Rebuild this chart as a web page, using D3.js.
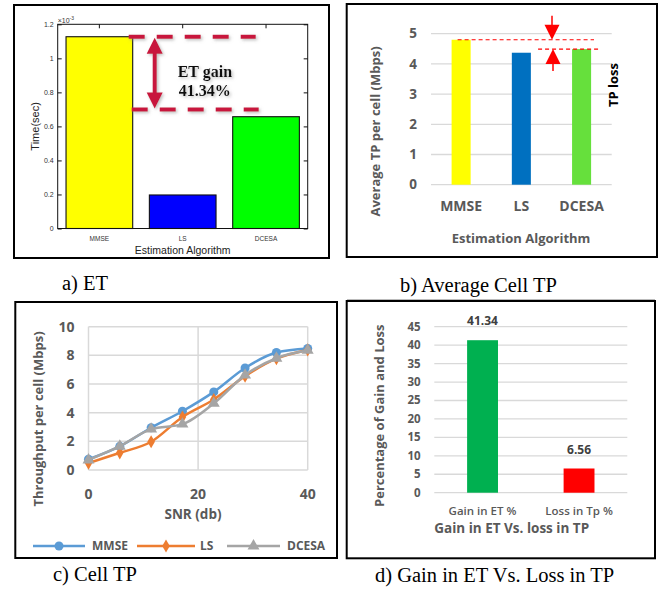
<!DOCTYPE html>
<html><head><meta charset="utf-8">
<script src="https://cdn.jsdelivr.net/npm/d3@7"></script>
<style>body{margin:0;background:#fff} svg{display:block}</style>
</head><body>
<svg id="chart" width="664" height="591"></svg>
<script>
// ---------- DATA ----------
const etCategories = ["MMSE", "LS", "DCESA"];
const etValues = [1.127e-3, 0.197e-3, 0.657e-3];            // Time (sec)
const etTicks = [0, 0.2e-3, 0.4e-3, 0.6e-3, 0.8e-3, 1.0e-3, 1.2e-3];
const etGainText = ["ET gain", "41.34%"];
const etGainLow = 0.70e-3;

const tpCategories = ["MMSE", "LS", "DCESA"];
const tpValues = [4.80, 4.37, 4.49];                        // Mbps
const tpTicks = [0, 1, 2, 3, 4, 5];

const snr = [0, 5.71, 11.43, 17.14, 22.86, 28.57, 34.29, 40];
const mmseTP = [0.75, 1.65, 2.95, 4.10, 5.45, 7.12, 8.20, 8.48];
const lsTP = [0.48, 1.20, 1.97, 3.70, 4.92, 6.55, 7.77, 8.38];
const dcesaTP = [0.70, 1.66, 2.85, 3.20, 4.65, 6.62, 7.80, 8.35];
const seriesNames = ["MMSE", "LS", "DCESA"];
const snrTicks = [0, 20, 40];
const cellTicks = [0, 2, 4, 6, 8, 10];

const gainCategories = ["Gain in ET %", "Loss in Tp %"];
const gainValues = [41.34, 6.56];
const gainTicks = [0, 5, 10, 15, 20, 25, 30, 35, 40, 45];

const captions = ["a) ET", "b) Average Cell TP", "c) Cell TP", "d) Gain in ET Vs. Loss in TP"];

// ---------- STYLE ----------
const F = "'Open Sans', sans-serif";
const FA = "'Liberation Sans', Arial, sans-serif";
const FS = "'Liberation Serif', 'Times New Roman', serif";
const GRAY = "#595959", GRID = "#d9d9d9";
const etColors = ["#ffff00", "#0000ff", "#00ff00"];
const tpColors = ["#ffff00", "#0070c0", "#66e03c"];
const lineColors = ["#5b9bd5", "#ed7d31", "#a5a5a5"];
const gainColors = ["#00b050", "#ff0000"];

const svg = d3.select("#chart");
const defs = svg.append("defs");
const flt = defs.append("filter").attr("id", "sh").attr("x", "-30%").attr("y", "-30%").attr("width", "160%").attr("height", "160%");
flt.append("feDropShadow").attr("dx", 1.5).attr("dy", 1.5).attr("stdDeviation", 1.4).attr("flood-color", "#888").attr("flood-opacity", 0.55);

function frame(x, y, w, h) {
  svg.append("rect").attr("x", x).attr("y", y).attr("width", w).attr("height", h)
    .attr("fill", "none").attr("stroke", "#000").attr("stroke-width", 2);
}
function txt(g, x, y, s, size, opts = {}) {
  const t = g.append("text").attr("x", x).attr("y", y).text(s)
    .attr("font-size", size).attr("font-family", opts.family || F)
    .attr("font-weight", opts.weight || "bold").attr("fill", opts.fill || GRAY)
    .attr("text-anchor", opts.anchor || "middle");
  if (opts.rotate) t.attr("transform", `rotate(-90,${x},${y})`);
  return t;
}

// ================= PANEL A =================
frame(14, 5, 315, 253);
const ga = svg.append("g");
const aX = d3.scaleBand().domain(etCategories).range([57.7, 307.7]).paddingInner(0.2).paddingOuter(0.1);
const aY = d3.scaleLinear().domain([0, 1.2e-3]).range([228.5, 24.3]);
ga.selectAll(".bar").data(etCategories).join("rect")
  .attr("x", d => aX(d)).attr("width", aX.bandwidth())
  .attr("y", (d, i) => aY(etValues[i])).attr("height", (d, i) => aY(0) - aY(etValues[i]))
  .attr("fill", (d, i) => etColors[i]).attr("stroke", "#111").attr("stroke-width", 1.1);
ga.append("rect").attr("x", aX.range()[0]).attr("y", aY.range()[1])
  .attr("width", aX.range()[1] - aX.range()[0]).attr("height", aY.range()[0] - aY.range()[1])
  .attr("fill", "none").attr("stroke", "#111").attr("stroke-width", 1);
const fmtA = d => String(Math.round(d * 1e4) / 10);
function styleAx(g, size) {
  g.select(".domain").remove();
  g.selectAll("line").attr("stroke", "#111");
  g.selectAll("text").attr("font-size", size).attr("font-family", FA).attr("fill", "#333");
}
ga.append("g").attr("transform", `translate(${aX.range()[0]},0)`)
  .call(d3.axisLeft(aY).tickValues(etTicks).tickSizeInner(-4).tickSizeOuter(0).tickPadding(4).tickFormat(fmtA))
  .call(g => styleAx(g, 7));
ga.append("g").attr("transform", `translate(${aX.range()[1]},0)`)
  .call(d3.axisRight(aY).tickValues(etTicks).tickSizeInner(-4).tickSizeOuter(0).tickFormat(""))
  .call(g => styleAx(g, 7));
ga.append("g").attr("transform", `translate(0,${aY.range()[1]})`)
  .call(d3.axisTop(aX).tickSizeInner(-4).tickSizeOuter(0).tickFormat(""))
  .call(g => styleAx(g, 7));
ga.append("g").attr("transform", `translate(0,${aY(0)})`)
  .call(d3.axisBottom(aX).tickSizeInner(0).tickSizeOuter(0).tickPadding(8))
  .call(g => styleAx(g, 6.5));
// x10^-3
const ex = ga.append("text").attr("x", aX.range()[0]).attr("y", 22.5)
  .attr("font-size", 7).attr("font-family", FA).attr("fill", "#333");
ex.append("tspan").text("\u00d710");
ex.append("tspan").text("-3").attr("font-size", 5).attr("dy", -3);
txt(ga, (aX.range()[0] + aX.range()[1]) / 2, 254, "Estimation Algorithm", 10.5, { family: FA, weight: "normal", fill: "#222" });
txt(ga, 39, (aY.range()[0] + aY.range()[1]) / 2, "Time(sec)", 11, { family: FA, weight: "normal", fill: "#222", rotate: true });
// annotation
const RED_A = "#c8143c";
const yTop = aY(etValues[0]), yLow = aY(etGainLow);
const ax0 = aX("MMSE") + aX.bandwidth() - 4;
const ann = ga.append("g").attr("filter", "url(#sh)");
ann.append("line").attr("x1", ax0).attr("x2", ax0 + 127).attr("y1", yTop).attr("y2", yTop)
  .attr("stroke", RED_A).attr("stroke-width", 4).attr("stroke-dasharray", "16 12");
ann.append("line").attr("x1", ax0 + 3).attr("x2", ax0 + 130).attr("y1", yLow).attr("y2", yLow)
  .attr("stroke", RED_A).attr("stroke-width", 4).attr("stroke-dasharray", "16 12");
const arX = ax0 + 26;
ann.append("line").attr("x1", arX).attr("x2", arX).attr("y1", yTop + 12).attr("y2", yLow - 12)
  .attr("stroke", RED_A).attr("stroke-width", 4);
ann.append("path").attr("d", `M${arX},${yTop + 1}L${arX + 8},${yTop + 17}L${arX - 8},${yTop + 17}Z`).attr("fill", RED_A);
ann.append("path").attr("d", `M${arX},${yLow - 1}L${arX + 8},${yLow - 17}L${arX - 8},${yLow - 17}Z`).attr("fill", RED_A);
const mid = (yTop + yLow) / 2;
const at = ga.append("g").attr("filter", "url(#sh)");
txt(at, arX + 23, mid + 4, etGainText[0], 16, { family: FS, fill: "#111", anchor: "start" });
txt(at, arX + 24, mid + 23, etGainText[1], 16, { family: FS, fill: "#111", anchor: "start" });

// ================= PANEL B =================
frame(346.7, 4, 310.3, 253);
const gb = svg.append("g");
const bX = d3.scaleBand().domain(tpCategories).range([431, 611.7]).paddingInner(0.684).paddingOuter(0.342);
const bY = d3.scaleLinear().domain([0, 5]).range([184.7, 33.7]);
gb.selectAll(".grid").data(tpTicks).join("line")
  .attr("x1", bX.range()[0]).attr("x2", bX.range()[1]).attr("y1", d => bY(d)).attr("y2", d => bY(d))
  .attr("stroke", GRID).attr("stroke-width", 1.3);
gb.selectAll(".bar").data(tpCategories).join("rect")
  .attr("x", d => bX(d)).attr("width", bX.bandwidth())
  .attr("y", (d, i) => bY(tpValues[i])).attr("height", (d, i) => bY(0) - bY(tpValues[i]))
  .attr("fill", (d, i) => tpColors[i]);
tpTicks.forEach(t => txt(gb, 417, bY(t) + 4.7, String(t), 13.5, { anchor: "end" }));
tpCategories.forEach(c => txt(gb, bX(c) + bX.bandwidth() / 2, 211, c, 14));
txt(gb, 521, 243, "Estimation Algorithm", 13);
txt(gb, 380, 131.5, "Average TP per cell (Mbps)", 13, { rotate: true });
// TP loss annotation
const yM = bY(tpValues[0]), yD = bY(tpValues[2]);
gb.append("line").attr("x1", bX("MMSE") + 6).attr("x2", 594).attr("y1", yM).attr("y2", yM)
  .attr("stroke", "#ff0000").attr("stroke-width", 1.2).attr("stroke-dasharray", "4 3");
gb.append("line").attr("x1", bX("DCESA") - 34).attr("x2", bX("DCESA") + bX.bandwidth() + 7).attr("y1", yD).attr("y2", yD)
  .attr("stroke", "#ff0000").attr("stroke-width", 1.2).attr("stroke-dasharray", "4 3");
const dX = 552, uX = 553;
gb.append("line").attr("x1", dX).attr("x2", dX).attr("y1", yM - 24).attr("y2", yM - 14).attr("stroke", "#ff0000").attr("stroke-width", 1.5);
gb.append("path").attr("d", `M${dX},${yM}L${dX + 7.5},${yM - 15}L${dX - 7.5},${yM - 15}Z`).attr("fill", "#ff0000");
gb.append("line").attr("x1", uX).attr("x2", uX).attr("y1", yD + 14).attr("y2", yD + 22).attr("stroke", "#ff0000").attr("stroke-width", 1.5);
gb.append("path").attr("d", `M${uX},${yD}L${uX + 7.5},${yD + 15}L${uX - 7.5},${yD + 15}Z`).attr("fill", "#ff0000");
txt(gb, 618, 85, "TP loss", 13, { fill: "#000", rotate: true });

// ================= PANEL C =================
frame(15.3, 302, 321.7, 256);
const gc = svg.append("g");
const cX = d3.scaleLinear().domain([0, 40]).range([88.5, 307.7]);
const cY = d3.scaleLinear().domain([0, 10]).range([470, 326.7]);
gc.selectAll(".hg").data(cellTicks).join("line")
  .attr("x1", cX(0)).attr("x2", cX(40)).attr("y1", d => cY(d)).attr("y2", d => cY(d))
  .attr("stroke", GRID).attr("stroke-width", 1.5);
gc.selectAll(".vg").data(snrTicks).join("line")
  .attr("y1", cY(0)).attr("y2", cY(10)).attr("x1", d => cX(d)).attr("x2", d => cX(d))
  .attr("stroke", GRID).attr("stroke-width", 1.5);
const series = [mmseTP, lsTP, dcesaTP];
const symTypes = [d3.symbolCircle, d3.symbolDiamond, d3.symbolTriangle];
const symSizes = [64, 50, 62];
const line = d3.line().x((d, i) => cX(snr[i])).y(d => cY(d)).curve(d3.curveMonotoneX);
series.forEach((s, k) => {
  gc.append("path").attr("d", line(s)).attr("fill", "none").attr("stroke", lineColors[k]).attr("stroke-width", 2.5);
  gc.selectAll(".m" + k).data(s).join("path")
    .attr("d", d3.symbol().type(symTypes[k]).size(symSizes[k]))
    .attr("transform", (d, i) => `translate(${cX(snr[i])},${cY(d)})`)
    .attr("fill", lineColors[k]);
});
cellTicks.forEach(t => txt(gc, 74.5, cY(t) + 5, String(t), 14, { anchor: "end" }));
snrTicks.forEach(t => txt(gc, cX(t), 498.5, String(t), 14));
txt(gc, 193, 519, "SNR (db)", 13.5);
txt(gc, 42.5, 419, "Throughput per cell (Mbps)", 13, { rotate: true });
// legend
const legX = [33, 137, 227], legW = [52, 58, 53], legT = [92, 200, 287];
const legY = 546;
seriesNames.forEach((n, k) => {
  gc.append("line").attr("x1", legX[k]).attr("x2", legX[k] + legW[k]).attr("y1", legY).attr("y2", legY)
    .attr("stroke", lineColors[k]).attr("stroke-width", 2.5);
  gc.append("path").attr("d", d3.symbol().type(symTypes[k]).size(symSizes[k])())
    .attr("transform", `translate(${legX[k] + legW[k] / 2},${legY})`).attr("fill", lineColors[k]);
  txt(gc, legT[k], legY + 4.3, n, 12, { anchor: "start" });
});

// ================= PANEL D =================
frame(346.7, 301, 308.3, 257.3);
const gd = svg.append("g");
const dXs = d3.scaleBand().domain(gainCategories).range([434.3, 627.3]).paddingInner(0.68).paddingOuter(0.34);
const dY = d3.scaleLinear().domain([0, 45]).range([492.7, 326.7]);
gd.selectAll(".grid").data(gainTicks).join("line")
  .attr("x1", dXs.range()[0]).attr("x2", dXs.range()[1]).attr("y1", d => dY(d)).attr("y2", d => dY(d))
  .attr("stroke", GRID).attr("stroke-width", 1.3);
gd.selectAll(".bar").data(gainCategories).join("rect")
  .attr("x", d => dXs(d)).attr("width", dXs.bandwidth())
  .attr("y", (d, i) => dY(gainValues[i])).attr("height", (d, i) => dY(0) - dY(gainValues[i]))
  .attr("fill", (d, i) => gainColors[i]);
gainCategories.forEach((c, i) => {
  txt(gd, dXs(c) + dXs.bandwidth() / 2, dY(gainValues[i]) - 15, gainValues[i].toFixed(2), 12, { fill: "#404040" });
  txt(gd, dXs(c) + dXs.bandwidth() / 2, 515, c, 11.5, { weight: 600 });
});
gainTicks.forEach(t => txt(gd, 420.7, dY(t) + 4, String(t), 11.5, { anchor: "end" }));
txt(gd, 511.7, 533, "Gain in ET Vs. loss in TP", 13.5);
txt(gd, 384, 415.7, "Percentage of Gain and Loss", 13, { rotate: true });

// ================= CAPTIONS =================
const capPos = [[62, 290], [400, 292], [53, 581], [375, 582]];
captions.forEach((c, i) => txt(svg, capPos[i][0], capPos[i][1], c, 20.5, { family: FS, weight: "normal", fill: "#000", anchor: "start" }));
svg.append("line").attr("x1", 347).attr("x2", 655).attr("y1", 299.5).attr("y2", 299.5).attr("stroke", "#bbb").attr("stroke-width", 1);
</script>
</body></html>
